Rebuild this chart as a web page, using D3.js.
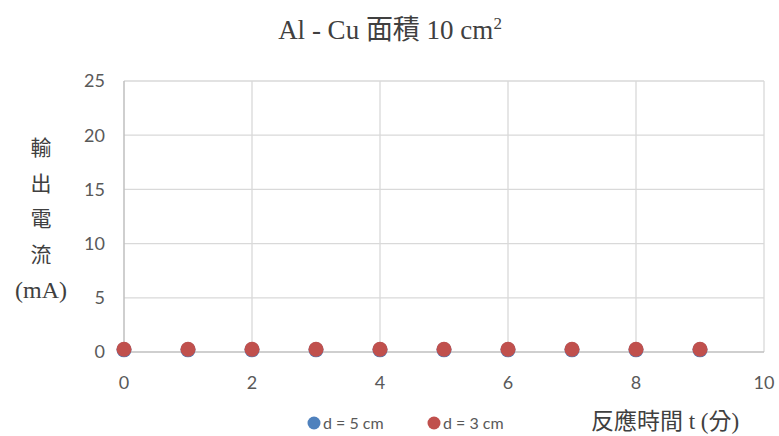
<!DOCTYPE html>
<html><head><meta charset="utf-8">
<script src="https://cdn.jsdelivr.net/npm/d3@7"></script>
<style>body{margin:0;background:#fff}</style>
</head><body>
<svg id="c" width="779" height="436"></svg>
<script>
const times = [0,1,2,3,4,5,6,7,8,9];
const seriesD5 = [0.2,0.2,0.2,0.2,0.2,0.2,0.2,0.2,0.2,0.2];
const seriesD3 = [0.25,0.25,0.25,0.25,0.25,0.25,0.25,0.25,0.25,0.25];
const seriesNames = ["d = 5 cm","d = 3 cm"];
const seriesColors = ["#4f81bd","#c0504d"];
const xTicks = [0,2,4,6,8,10];
const yTicks = [0,5,10,15,20,25];

const svg = d3.select("#c");
const m = {l:124, r:764, t:81, b:352};
const x = d3.scaleLinear().domain([0,10]).range([m.l,m.r]);
const y = d3.scaleLinear().domain([0,25]).range([m.b,m.t]);
const tickFont = "Lato, 'Open Sans', sans-serif";
const serif = "'Liberation Serif', 'Noto Sans CJK TC', serif";

// grid
const g = svg.append("g");
g.selectAll("line.h").data(yTicks.filter(d=>d>0)).join("line")
 .attr("x1",m.l).attr("x2",m.r).attr("y1",d=>y(d)).attr("y2",d=>y(d))
 .attr("stroke","#d9d9d9").attr("stroke-width",1.3);
g.selectAll("line.v").data(xTicks.filter(d=>d>0)).join("line")
 .attr("y1",m.t).attr("y2",m.b).attr("x1",d=>x(d)).attr("x2",d=>x(d))
 .attr("stroke","#d9d9d9").attr("stroke-width",1.3);
g.append("line").attr("x1",m.l).attr("x2",m.r).attr("y1",y(0)).attr("y2",y(0)).attr("stroke","#bfbfbf").attr("stroke-width",1.5);
g.append("line").attr("x1",m.l).attr("x2",m.l).attr("y1",m.t).attr("y2",m.b).attr("stroke","#bfbfbf").attr("stroke-width",1.5);

// tick labels
svg.append("g").selectAll("text").data(yTicks).join("text")
 .attr("x",m.l-19).attr("y",d=>y(d)).attr("dy","0.35em").attr("text-anchor","end")
 .attr("font-family",tickFont).attr("font-size",18).attr("fill","#595959").text(d=>d);
svg.append("g").selectAll("text").data(xTicks).join("text")
 .attr("x",d=>x(d)).attr("y",m.b+31).attr("dy","0.35em").attr("text-anchor","middle")
 .attr("font-family",tickFont).attr("font-size",18).attr("fill","#595959").text(d=>d);

// points
[seriesD5, seriesD3].forEach((s,i)=>{
  svg.append("g").selectAll("circle").data(times.map((t,j)=>[t,s[j]])).join("circle")
   .attr("cx",d=>x(d[0])).attr("cy",d=>y(d[1])).attr("r",7.5)
   .attr("fill",seriesColors[i]);
});

// title
const title = svg.append("text").attr("x",390).attr("y",39).attr("text-anchor","middle")
 .attr("font-family",serif).attr("font-size",27).attr("fill","#404040");
title.append("tspan").text("Al - Cu 面積 10 cm");
title.append("tspan").attr("font-size",17).attr("dy",-10).text("2");

// y title
const yt = ["輸","出","電","流","(mA)"];
svg.append("g").selectAll("text").data(yt).join("text")
 .attr("x",41).attr("y",(d,i)=>148+i*35.5).attr("dy","0.35em").attr("text-anchor","middle")
 .attr("font-family",serif).attr("font-size",(d,i)=>i===4?24:21).attr("fill","#404040").text(d=>d);

// legend
const lg = svg.append("g");
const lx = [314,434];
seriesNames.forEach((n,i)=>{
  lg.append("circle").attr("cx",lx[i]).attr("cy",423).attr("r",6.5).attr("fill",seriesColors[i]);
  lg.append("text").attr("x",lx[i]+9).attr("y",423).attr("dy","0.35em")
   .attr("font-family",tickFont).attr("font-size",16).attr("fill","#595959").text(n);
});
// x title
svg.append("text").attr("x",665).attr("y",421).attr("dy","0.35em").attr("text-anchor","middle")
 .attr("font-family",serif).attr("font-size",23).attr("fill","#404040").text("反應時間 t (分)");
</script>
</body></html>
